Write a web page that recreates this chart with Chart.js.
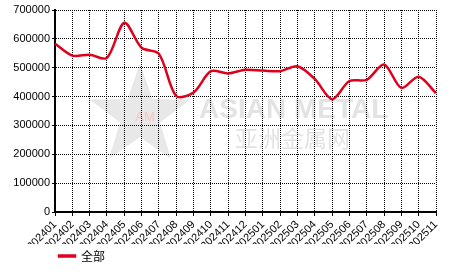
<!DOCTYPE html>
<html>
<head>
<meta charset="utf-8">
<script src="https://cdn.jsdelivr.net/npm/chart.js@4"></script>
<style>
  html, body { margin: 0; padding: 0; background: #fff; }
  #wrap { width: 466px; height: 272px; }
</style>
</head>
<body>
<div id="wrap"><canvas id="chart" width="466" height="272"></canvas></div>
<script>
// months along the x axis
const months = ['202401', '202402', '202403', '202404', '202405', '202406', '202407', '202408',
    '202409', '202410', '202411', '202412', '202501', '202502', '202503', '202504', '202505',
    '202506', '202507', '202508', '202509', '202510', '202511'];
// series "全部"
const totalValues = [583000, 542000, 545000, 534000, 656000, 569000, 548000, 402000,
    414000, 488000, 480000, 493000, 490000, 488000, 505000, 461000, 391000,
    454000, 458000, 511000, 430000, 469000, 412000];
const seriesName = '全部';
const yMin = 0;
const yMax = 700000;
const yStep = 100000;

const lineRed = '#e0001b';

/* watermark behind the chart */
const watermark = {
    id: 'watermark',
    beforeDraw(chart) {
        const c = chart.ctx;
        c.save();
        // star
        const cx = 140, cy = 116, R = 53, r = 21;
        c.beginPath();
        for (let i = 0; i < 10; i++) {
            const rad = i % 2 === 0 ? R : r;
            const a = -Math.PI / 2 + i * Math.PI / 5;
            const px = cx + rad * Math.cos(a), py = cy + rad * Math.sin(a);
            if (i === 0) c.moveTo(px, py); else c.lineTo(px, py);
        }
        c.closePath();
        c.fillStyle = '#e8e8e8';
        c.fill();
        c.fillStyle = '#f6c4c4';
        c.font = '13px "Liberation Sans"';
        c.textAlign = 'center';
        c.textBaseline = 'middle';
        c.fillText('AM', 145, 117);
        c.fillStyle = '#e3e3e3';
        c.textAlign = 'left';
        c.textBaseline = 'alphabetic';
        c.font = 'bold 28px "Liberation Sans"';
        c.fillText('ASIAN METAL', 199, 118);
        c.font = '23px "Noto Sans CJK SC"';
        c.fillText('亚洲金属网', 235, 147);
        c.restore();
    }
};

/* move the legend to the right like the original */
const legendShift = {
    id: 'legendShift',
    afterLayout(chart) {
        chart.legend.left = 53;
    }
};

const ctx = document.getElementById('chart').getContext('2d');
const chart = new Chart(ctx, {
    type: 'line',
    data: {
        labels: months,
        datasets: [{
            label: seriesName,
            data: totalValues,
            borderColor: lineRed,
            backgroundColor: lineRed,
            borderWidth: 2.5,
            pointRadius: 0,
            tension: 0.3,
            fill: false
        }]
    },
    plugins: [watermark, legendShift],
    options: {
        responsive: false,
        animation: false,
        layout: { padding: { top: 10, right: 30, left: 0, bottom: 0 } },
        scales: {
            x: {
                offset: false,
                grid: {
                    color: '#000',
                    lineWidth: 1,
                    tickLength: 4,
                    tickColor: '#000',
                    tickBorderDash: []
                },
                border: { display: true, color: '#000', width: 2, dash: [1, 1] },
                ticks: {
                    color: '#000',
                    font: { family: 'Liberation Sans', size: 11 },
                    maxRotation: 45,
                    minRotation: 45,
                    autoSkip: false,
                    padding: 2
                },
                afterFit(scale) { scale.height = 32; }
            },
            y: {
                min: yMin,
                max: yMax,
                grid: {
                    color: '#000',
                    lineWidth: 1,
                    tickLength: 3,
                    tickColor: '#000',
                    tickBorderDash: []
                },
                border: { display: true, color: '#000', width: 2, dash: [1, 1] },
                ticks: {
                    stepSize: yStep,
                    color: '#000',
                    font: { family: 'Liberation Sans', size: 11 },
                    padding: 2,
                    callback: (v) => String(v)
                },
                afterFit(scale) { scale.width = 55; }
            }
        },
        plugins: {
            legend: {
                display: true,
                position: 'bottom',
                align: 'start',
                labels: {
                    color: '#000',
                    font: { family: 'Noto Sans CJK SC', size: 12 },
                    boxWidth: 16,
                    boxHeight: 1,
                    padding: 6
                }
            },
            tooltip: { enabled: false }
        }
    }
});
</script>
</body>
</html>
